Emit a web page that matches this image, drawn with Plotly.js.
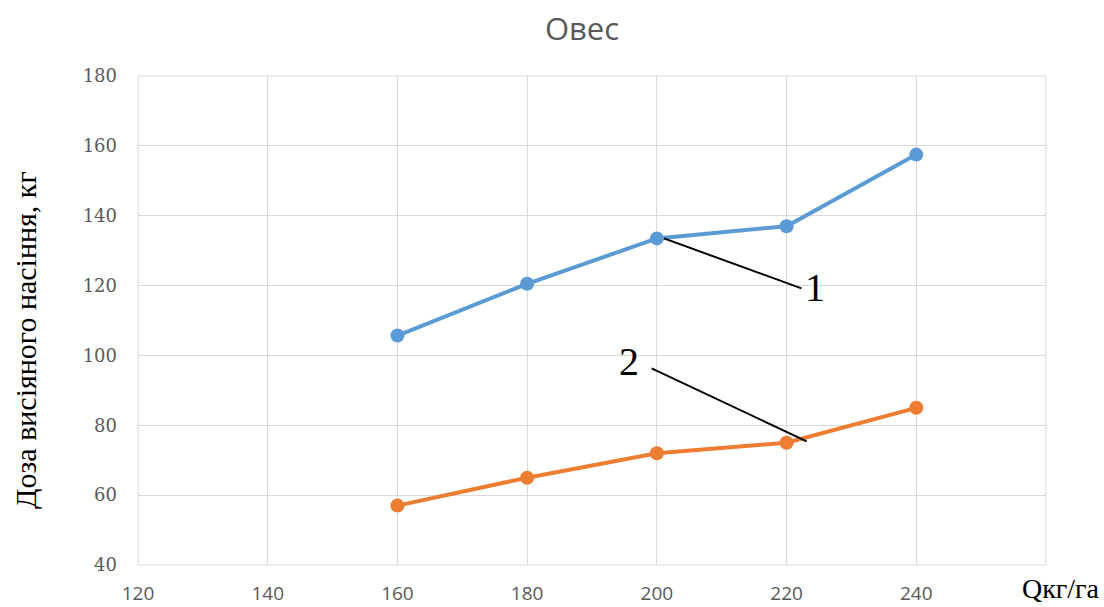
<!DOCTYPE html>
<html><head><meta charset="utf-8">
<script src="https://cdn.plot.ly/plotly-3.0.1.min.js"></script>
<style>html,body{margin:0;padding:0;background:#fff}#chart{width:1104px;height:607px}</style>
</head><body><div id="chart"></div>
<script>
const xValues = [160, 180, 200, 220, 240];
const series1 = [105.7, 120.5, 133.5, 137, 157.5];
const series2 = [57, 65, 72, 75, 85];
const xTicks = [120, 140, 160, 180, 200, 220, 240, 260];
const yTicks = [40, 60, 80, 100, 120, 140, 160, 180];
const yTickLabels = ['40', '60', '80', '100', '120', '140', '160', '180'];
const xTickLabels = ['120', '140', '160', '180', '200', '220', '240', ''];

const traces = [
  {x: xValues, y: series1, mode: 'lines+markers', line: {color: '#5B9BD5', width: 4}, marker: {color: '#5B9BD5', size: 14}},
  {x: xValues, y: series2, mode: 'lines+markers', line: {color: '#ED7D31', width: 4}, marker: {color: '#ED7D31', size: 14}}
];

const serif = 'Liberation Serif, Times New Roman, serif';
const pw = 908, ph = 489;
const layout = {
  width: 1104, height: 607,
  margin: {l: 138, r: 58, t: 76, b: 42},
  paper_bgcolor: '#fff', plot_bgcolor: '#fff',
  showlegend: false,
  title: {text: 'Овес', x: 582/1104, xref: 'container', xanchor: 'center', y: 1 - 29/607, yref: 'container', yanchor: 'middle', font: {family: 'Open Sans, sans-serif', size: 31, color: '#595959'}},
  xaxis: {range: [120, 260], tickvals: xTicks, ticktext: xTickLabels, showgrid: true, gridcolor: '#D9D9D9', gridwidth: 1, zeroline: false, showline: false, ticks: '', tickfont: {family: 'Open Sans, sans-serif', size: 19, color: '#595959'}, ticklabelstandoff: 15},
  yaxis: {range: [40, 180], tickvals: yTicks, ticktext: yTickLabels, showgrid: true, gridcolor: '#D9D9D9', gridwidth: 1, zeroline: false, showline: false, ticks: '', tickfont: {family: 'DejaVu Serif, serif', size: 18, color: '#595959'}, ticklabelstandoff: 20},
  shapes: [
    {type: 'rect', xref: 'paper', yref: 'paper', x0: 0, x1: 1, y0: 0, y1: 1, line: {color: '#D9D9D9', width: 1}},
    {type: 'line', xref: 'x', yref: 'y', x0: 201.1, y0: 133.5, x1: 222.3, y1: 119.2, line: {color: '#000', width: 2}},
    {type: 'line', xref: 'x', yref: 'y', x0: 199.2, y0: 96.3, x1: 223.1, y1: 75.4, line: {color: '#000', width: 2}}
  ],
  annotations: [
    {xref: 'x', yref: 'y', x: 224.4, y: 119.5, text: '1', showarrow: false, xanchor: 'center', yanchor: 'middle', font: {family: serif, size: 40, color: '#000'}},
    {xref: 'x', yref: 'y', x: 195.7, y: 98.2, text: '2', showarrow: false, xanchor: 'center', yanchor: 'middle', font: {family: serif, size: 40, color: '#000'}},
    {xref: 'paper', yref: 'paper', x: (1102 - 138) / pw, y: (565 - 588) / ph, text: 'Qкг/га', showarrow: false, xanchor: 'right', yanchor: 'middle', font: {family: serif, size: 28, color: '#000'}},
    {xref: 'paper', yref: 'paper', x: (25 - 138) / pw, y: (565 - 340) / ph, text: 'Доза висіяного насіння, кг', textangle: -90, showarrow: false, xanchor: 'center', yanchor: 'middle', font: {family: serif, size: 30, color: '#000'}}
  ]
};
Plotly.newPlot('chart', traces, layout, {displayModeBar: false, staticPlot: true});
</script></body></html>
